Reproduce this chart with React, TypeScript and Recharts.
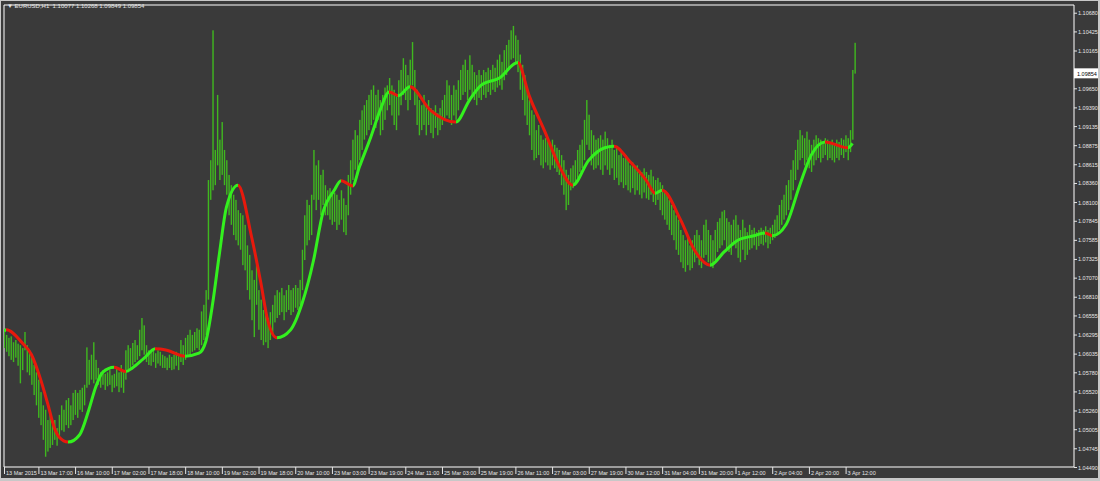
import React from 'react';
import { ComposedChart, Bar, Line, XAxis, YAxis, ReferenceArea, ReferenceLine } from 'recharts';

// EURUSD H1 bar ranges, in points above 1.0000 (1 pt = 0.0001)
const barHigh = [
  636, 629, 625, 627, 619, 622, 617, 615, 611, 633,
  615, 608, 602, 588, 578, 568, 551, 533, 527, 513,
  520, 506, 513, 502, 520, 533, 527, 540, 543, 533,
  550, 554, 550, 554, 557, 561, 612, 595, 602, 619,
  595, 584, 578, 581, 576, 578, 581, 574, 576, 584,
  578, 588, 581, 608, 615, 611, 618, 622, 615, 636,
  652, 642, 615, 608, 606, 611, 604, 608, 606, 602,
  600, 598, 602, 599, 602, 606, 600, 622, 615, 625,
  629, 636, 629, 633, 638, 636, 661, 670, 690, 840,
  867, 1044, 881, 956, 895, 919, 881, 867, 847, 833,
  820, 813, 799, 795, 792, 779, 751, 738, 717, 704,
  724, 690, 677, 663, 656, 652, 660, 670, 683, 690,
  687, 693, 683, 690, 697, 690, 693, 697, 693, 704,
  745, 792, 813, 806, 820, 881, 860, 867, 847, 854,
  833, 826, 829, 820, 823, 820, 813, 826, 815, 806,
  847, 867, 895, 908, 901, 922, 935, 942, 949, 956,
  963, 969, 956, 963, 949, 956, 966, 969, 979, 969,
  963, 956, 976, 990, 1006, 997, 983, 1004, 1028, 990,
  963, 949, 942, 956, 942, 949, 938, 935, 942, 931,
  938, 949, 956, 976, 969, 956, 969, 963, 976, 990,
  997, 1004, 990, 1010, 997, 987, 983, 990, 983, 990,
  987, 993, 990, 997, 993, 1004, 1011, 1001, 1017, 1024,
  1031, 1044, 1050, 1037, 1031, 1011, 997, 983, 963, 949,
  935, 929, 908, 915, 901, 895, 897, 895, 888, 895,
  888, 884, 881, 874, 867, 854, 847, 856, 860, 867,
  881, 888, 895, 922, 949, 929, 908, 901, 895, 897,
  901, 895, 906, 897, 888, 895, 881, 884, 874, 878,
  870, 874, 867, 860, 864, 856, 860, 854, 851, 856,
  851, 847, 854, 845, 840, 843, 837, 833, 826, 820,
  813, 806, 799, 792, 786, 772, 765, 758, 761, 751,
  758, 765, 772, 765, 758, 779, 786, 772, 765, 758,
  772, 783, 788, 797, 799, 788, 783, 779, 786, 792,
  779, 772, 786, 775, 769, 779, 772, 775, 769, 772,
  775, 772, 777, 772, 775, 779, 786, 792, 806, 813,
  820, 833, 840, 854, 867, 881, 895, 908, 901, 897,
  906, 895, 888, 895, 901, 897, 895, 892, 897, 895,
  892, 895, 888, 895, 892, 897, 895, 901, 897, 908, 990, 1027,
];

const barLow = [
  611, 606, 600, 595, 592, 598, 587, 563, 581, 608,
  578, 574, 561, 547, 533, 516, 506, 486, 463, 470,
  475, 479, 486, 478, 489, 499, 497, 506, 502, 506,
  513, 520, 516, 527, 524, 533, 557, 561, 568, 563,
  568, 561, 557, 561, 554, 559, 561, 551, 557, 559,
  551, 557, 550, 568, 578, 584, 588, 592, 595, 600,
  608, 602, 592, 588, 587, 592, 584, 590, 587, 584,
  584, 581, 584, 581, 582, 587, 581, 592, 588, 595,
  602, 599, 606, 608, 611, 608, 615, 622, 629, 677,
  813, 826, 833, 860, 840, 847, 833, 820, 792, 779,
  765, 758, 751, 745, 724, 717, 690, 677, 649, 626,
  670, 636, 622, 615, 619, 611, 622, 629, 646, 652,
  656, 660, 649, 660, 663, 656, 660, 666, 663, 670,
  690, 731, 751, 758, 765, 813, 799, 813, 792, 806,
  792, 792, 786, 779, 783, 772, 779, 786, 769, 765,
  792, 820, 840, 854, 847, 867, 881, 895, 901, 908,
  915, 922, 911, 922, 901, 908, 922, 935, 942, 928,
  915, 908, 928, 942, 956, 949, 935, 949, 969, 942,
  915, 901, 908, 915, 901, 915, 904, 897, 911, 901,
  908, 915, 922, 928, 924, 915, 928, 922, 935, 949,
  956, 960, 949, 963, 956, 949, 942, 952, 949, 956,
  952, 960, 956, 963, 960, 966, 969, 963, 976, 983,
  990, 1004, 1006, 997, 987, 963, 949, 928, 915, 901,
  881, 867, 870, 874, 860, 856, 864, 860, 854, 860,
  856, 851, 847, 833, 820, 799, 806, 826, 829, 833,
  843, 851, 856, 867, 888, 881, 860, 854, 856, 860,
  854, 847, 860, 854, 847, 856, 840, 843, 833, 837,
  829, 833, 826, 823, 829, 820, 826, 820, 815, 823,
  815, 813, 820, 810, 806, 813, 799, 792, 786, 779,
  772, 765, 758, 745, 738, 728, 720, 715, 724, 717,
  720, 728, 734, 724, 720, 734, 738, 728, 724, 720,
  731, 742, 747, 751, 758, 745, 742, 738, 751, 747,
  734, 728, 745, 731, 738, 745, 747, 751, 745, 750,
  753, 751, 755, 747, 753, 758, 761, 765, 772, 779,
  786, 792, 799, 813, 826, 840, 854, 867, 870, 860,
  867, 856, 851, 860, 867, 870, 864, 870, 874, 867,
  870, 867, 864, 870, 867, 874, 870, 878, 867, 878, 895, 985,
];

// smoothed trend indicator, read at its bends (bar index, points above 1.0000)
const trendIdx = [
  0, 1, 8, 12, 16, 19, 22, 24, 28, 33, 37, 40, 43, 48, 53, 56, 61, 66, 71, 79,
  85, 88, 91, 94, 97, 102, 108, 112, 115, 119, 125, 130, 135, 139, 144, 147, 152, 155, 160, 164,
  168, 172, 177, 186, 197, 203, 208, 216, 224, 229, 236, 242, 248, 255, 262, 266, 273, 280, 284, 287,
  295, 301, 308, 314, 320, 327, 332, 335, 341, 347, 352, 358, 368, 370,
];
const trendPts = [
  634, 636, 618, 602, 568, 536, 502, 490, 483, 493, 527, 558, 578, 585, 579, 584, 597, 610, 608, 600,
  604, 620, 672, 741, 803, 833, 762, 700, 649, 625, 636, 672, 731, 795, 826, 839, 832, 858, 899, 935,
  960, 955, 967, 935, 919, 949, 969, 979, 1000, 955, 905, 860, 833, 867, 884, 886, 865, 840, 822, 826,
  786, 745, 724, 742, 758, 764, 768, 764, 779, 833, 874, 892, 884, 890,
];

const timeTickIdx = [0, 15, 31, 47, 63, 79, 95, 111, 127, 143, 159, 175, 191, 207, 223, 239, 255, 271, 287, 303, 319, 335, 351, 367];
const timeLabels = [
  '13 Mar 2015', '13 Mar 17:00', '16 Mar 10:00', '17 Mar 02:00', '17 Mar 18:00', '18 Mar 10:00',
  '19 Mar 02:00', '19 Mar 18:00', '20 Mar 10:00', '23 Mar 03:00', '23 Mar 19:00', '24 Mar 11:00',
  '25 Mar 03:00', '25 Mar 19:00', '26 Mar 11:00', '27 Mar 03:00', '27 Mar 19:00', '30 Mar 12:00',
  '31 Mar 04:00', '31 Mar 20:00', '1 Apr 12:00', '2 Apr 04:00', '2 Apr 20:00', '3 Apr 12:00',
];

// 1.09910 sits under the last-price tag, so it is left out
const priceTicks = [
  1.1068, 1.10425, 1.10165, 1.0965, 1.0939, 1.09135, 1.08875, 1.08615, 1.0836, 1.081, 1.07845,
  1.07585, 1.07325, 1.0707, 1.0681, 1.06555, 1.06295, 1.06035, 1.0578, 1.0552, 1.0526, 1.05005, 1.04745, 1.0449,
];

const lastPrice = 1.09854;
const headline = 'EURUSD,H1  1.10077 1.10268 1.09849 1.09854';

const PT = 0.0001;
const X_MAX = 466.6;
const Y_MIN = 1.0449;
const Y_MAX = 1.10785;

const BG = '#3a3a3a';
const BAR = '#3fb81f';
const UP = '#33f01e';
const DOWN = '#e8190c';
const TXT = '#e6e6e6';
const FONT = '"Liberation Sans", Arial, sans-serif';

const bars = barHigh.map((h, i) => ({ i, hl: [1 + barLow[i] * PT, 1 + h * PT] }));
const trend = trendIdx.map((i, k) => ({ i, v: 1 + trendPts[k] * PT }));

// colour the trend line by direction: green rising, red falling
const span = trendIdx[trendIdx.length - 1] - trendIdx[0];
const stops: React.ReactElement[] = [];
for (let k = 0; k < trendIdx.length - 1; k++) {
  const col = trendPts[k + 1] >= trendPts[k] ? UP : DOWN;
  stops.push(<stop key={k + 'a'} offset={(trendIdx[k] - trendIdx[0]) / span} stopColor={col} />);
  stops.push(<stop key={k + 'b'} offset={(trendIdx[k + 1] - trendIdx[0]) / span} stopColor={col} />);
}

const HLBar = (p: any) => {
  const top = p.height < 0 ? p.y + p.height : p.y;
  const h = Math.max(Math.abs(p.height), 1);
  return <rect x={p.x + p.width / 2 - 0.7} y={top} width={1.4} height={h} fill={BAR} />;
};

const TimeTick = (p: any) => {
  const k = timeTickIdx.indexOf(p.payload.value);
  return (
    <g>
      <line x1={p.x + 0.5} x2={p.x + 0.5} y1={p.y} y2={p.y + 7} stroke={TXT} />
      <text x={p.x + 2} y={p.y + 8} fontSize={5.5} fill={TXT} fontFamily={FONT}>{timeLabels[k]}</text>
    </g>
  );
};

const PriceTick = (p: any) => (
  <g>
    <line x1={p.x} x2={p.x + 3} y1={p.y + 0.5} y2={p.y + 0.5} stroke={TXT} />
    <text x={p.x + 4} y={p.y + 2.5} fontSize={5.5} fill={TXT} fontFamily={FONT}>{Number(p.payload.value).toFixed(5)}</text>
  </g>
);

const LastPriceTag = (p: any) => {
  const vb = p.viewBox;
  const x = vb.x + vb.width;
  return (
    <g>
      <rect x={x} y={vb.y - 5} width={24} height={10} fill="#ffffff" />
      <text x={x + 3} y={vb.y + 2.5} fontSize={5.5} fill="#000000" fontFamily={FONT}>{lastPrice.toFixed(5)}</text>
    </g>
  );
};

export default function App() {
  return (
    <div style={{ position: 'absolute', left: 0, top: 0, width: 1100, height: 481, background: '#c8c8c8' }}>
      <div style={{ position: 'absolute', left: 1, top: 1, width: 1097, height: 477, background: BG }} />
      <div style={{ position: 'absolute', left: 0, top: 0 }}>
        <ComposedChart width={1100} height={481} data={bars} margin={{ top: 5, right: 0, bottom: 0, left: 4 }}>
          <defs>
            <linearGradient id="trendGrad" x1="0" y1="0" x2="1" y2="0">
              {stops}
            </linearGradient>
          </defs>
          <XAxis
            type="number"
            dataKey="i"
            domain={[0, X_MAX]}
            allowDataOverflow
            ticks={timeTickIdx}
            interval={0}
            height={14}
            tickSize={0}
            tickMargin={0}
            axisLine={false}
            tickLine={false}
            tick={<TimeTick />}
          />
          <YAxis
            orientation="right"
            type="number"
            domain={[Y_MIN, Y_MAX]}
            allowDataOverflow
            ticks={priceTicks}
            interval={0}
            width={26}
            tickSize={0}
            tickMargin={0}
            axisLine={false}
            tickLine={false}
            tick={<PriceTick />}
          />
          <ReferenceArea x1={0} x2={X_MAX} y1={Y_MIN} y2={Y_MAX} fill="none" stroke="#ffffff" strokeWidth={1} ifOverflow="visible" />
          <Bar dataKey="hl" barSize={1} shape={<HLBar />} isAnimationActive={false} />
          <Line data={trend} dataKey="v" type="monotone" stroke="url(#trendGrad)" strokeWidth={3} dot={false} isAnimationActive={false} />
          <ReferenceLine y={lastPrice} stroke="none" label={<LastPriceTag />} />
        </ComposedChart>
      </div>
      <div style={{ position: 'absolute', left: 7, top: 3, fontSize: 6, color: TXT, fontFamily: FONT, whiteSpace: 'pre', lineHeight: '7px' }}>
        {'\u25BC ' + headline}
      </div>
    </div>
  );
}
